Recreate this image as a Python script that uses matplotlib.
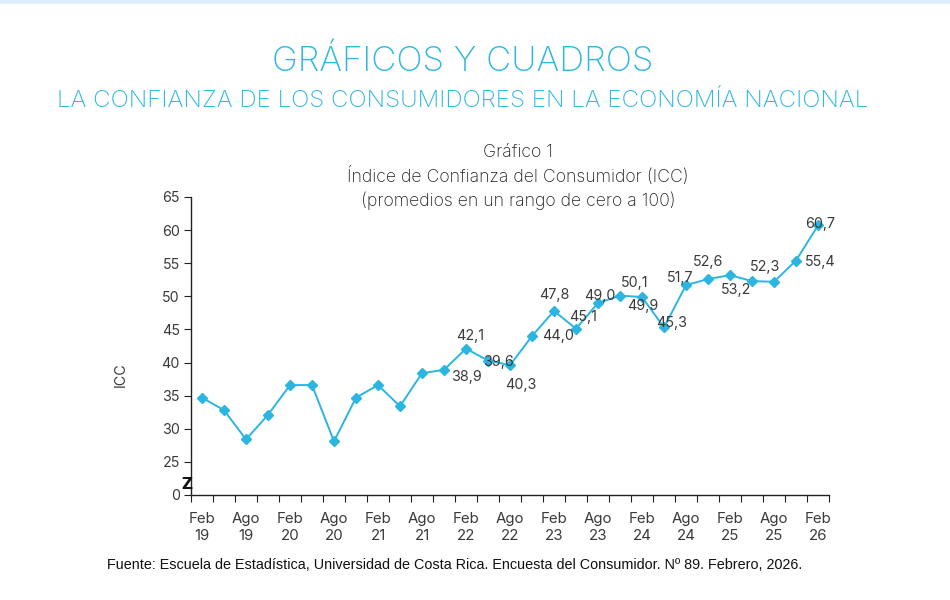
import matplotlib
matplotlib.use("Agg")
import matplotlib.pyplot as plt
from matplotlib.ticker import FixedLocator, NullFormatter, FixedFormatter
import matplotlib.transforms as mtransforms

# ---- data ----
months = ["Feb", "May", "Ago", "Nov"]
years = ["19", "20", "21", "22", "23", "24", "25", "26"]
categories = [f"{m} {y}" for y in years for m in months][:29]
icc = [34.7, 32.8, 28.4, 32.1, 36.6, 36.6, 28.1, 34.7, 36.6, 33.4,
       38.4, 38.9, 42.1, 40.3, 39.6, 44.0, 47.8, 45.1, 49.0, 50.1,
       49.9, 45.3, 51.7, 52.6, 53.2, 52.3, 52.2, 55.4, 60.7]
labeled = [11, 12, 13, 14, 15, 16, 17, 18, 19, 20, 21, 22, 23, 24, 25, 27, 28]
# label offsets in pixels (dx, dy) — styling
label_offsets = {11: (22, -7), 12: (4, 13), 13: (33, -24), 14: (-12, 3),
                 15: (26, 0), 16: (0, 16), 17: (7, 12), 18: (2, 7),
                 19: (15, 13), 20: (1, -9), 21: (8, 4), 22: (-6, 7),
                 23: (0, 17), 24: (6, -15), 25: (13, 14), 27: (24, -1),
                 28: (2, 1)}
ytick_vals = [20, 25, 30, 35, 40, 45, 50, 55, 60, 65]
ytick_labels = ["0", "25", "30", "35", "40", "45", "50", "55", "60", "65"]

CYAN = "#2bb5e1"
TITLE_CYAN = "#30b8e0"
GRAY = "#3a3a3a"

fig = plt.figure(figsize=(9.5, 6), dpi=100)
fig.patch.set_facecolor("white")

# top light strip
fig.patches.append(plt.Rectangle((0, 1 - 4 / 600), 1, 4 / 600, transform=fig.transFigure,
                                 facecolor="#dceefb", edgecolor="none"))

fig.text(463 / 950, 1 - 62 / 600, "GRÁFICOS Y CUADROS", ha="center", va="center",
         fontsize=25, color=TITLE_CYAN, family="Inter", fontweight="light")
fig.text(463 / 950, 1 - 101 / 600, "LA CONFIANZA DE LOS CONSUMIDORES EN LA ECONOMÍA NACIONAL",
         ha="center", va="center", fontsize=17.4, color=TITLE_CYAN, family="Inter",
         fontweight="light")
fig.text(518 / 950, 1 - 177 / 600,
         "Gráfico 1\nÍndice de Confianza del Consumidor (ICC)\n(promedios en un rango de cero a 100)",
         ha="center", va="center", fontsize=12.7, color="#222222", family="Inter",
         fontweight="light", linespacing=1.36)
fig.text(455 / 950, 1 - 565 / 600,
         "Fuente: Escuela de Estadística, Universidad de Costa Rica. Encuesta del Consumidor. Nº 89. Febrero, 2026.",
         ha="center", va="center", fontsize=10.4, color="#111111", family="Liberation Sans")

ax = fig.add_axes([191 / 950, 1 - 495 / 600, 638 / 950, (495 - 197) / 600])
x = list(range(len(icc)))
ax.plot(x, icc, color=CYAN, lw=1.4, marker="D", ms=4.6, mfc=CYAN, mec=CYAN, zorder=3)

for i in labeled:
    dx, dy = label_offsets[i]
    ax.annotate(f"{icc[i]:.1f}".replace(".", ","), (i, icc[i]), xytext=(dx, dy),
                textcoords="offset pixels", ha="center", va="center",
                fontsize=10.3, color=GRAY, family="Inter", zorder=4)

ax.set_xlim(-0.5, len(icc) - 0.5)
ax.set_ylim(20, 65)
for s in ["top", "right"]:
    ax.spines[s].set_visible(False)
for s in ["left", "bottom"]:
    ax.spines[s].set_color("#222222")
    ax.spines[s].set_linewidth(1.0)

ax.yaxis.set_major_locator(FixedLocator(ytick_vals))
ax.yaxis.set_major_formatter(FixedFormatter(ytick_labels))
ax.tick_params(axis="y", direction="out", length=5, width=0.8, colors="#222222",
               labelcolor=GRAY, labelsize=10.3, pad=3)

# category boundaries as major ticks, labels at every second category
ax.xaxis.set_major_locator(FixedLocator([i - 0.5 for i in range(len(icc) + 1)]))
ax.xaxis.set_major_formatter(NullFormatter())
lab_pos = list(range(0, len(icc), 2))
ax.xaxis.set_minor_locator(FixedLocator(lab_pos))
ax.xaxis.set_minor_formatter(FixedFormatter(
    [categories[i].replace(" ", "\n") for i in lab_pos]))
ax.tick_params(axis="x", which="major", direction="out", length=5, width=0.8,
               colors="#222222")
ax.tick_params(axis="x", which="minor", length=0, pad=12, labelsize=10.8,
               labelcolor=GRAY)
for t in ax.get_yticklabels() + ax.xaxis.get_minorticklabels():
    t.set_family("Inter")
for t in ax.xaxis.get_minorticklabels():
    t.set_linespacing(1.3)

# axis break mark
trans = mtransforms.blended_transform_factory(ax.transAxes, ax.transData)
ax.text(-0.006, 21.6, "Z", transform=trans, ha="center", va="center",
        fontsize=11, fontweight="bold", color="#111111", family="DejaVu Sans")

fig.text(121 / 950, 1 - 375 / 600, "ICC", rotation=90, ha="center", va="center",
         fontsize=10.3, color=GRAY, family="Inter")

fig.savefig("out.png", dpi=100)
